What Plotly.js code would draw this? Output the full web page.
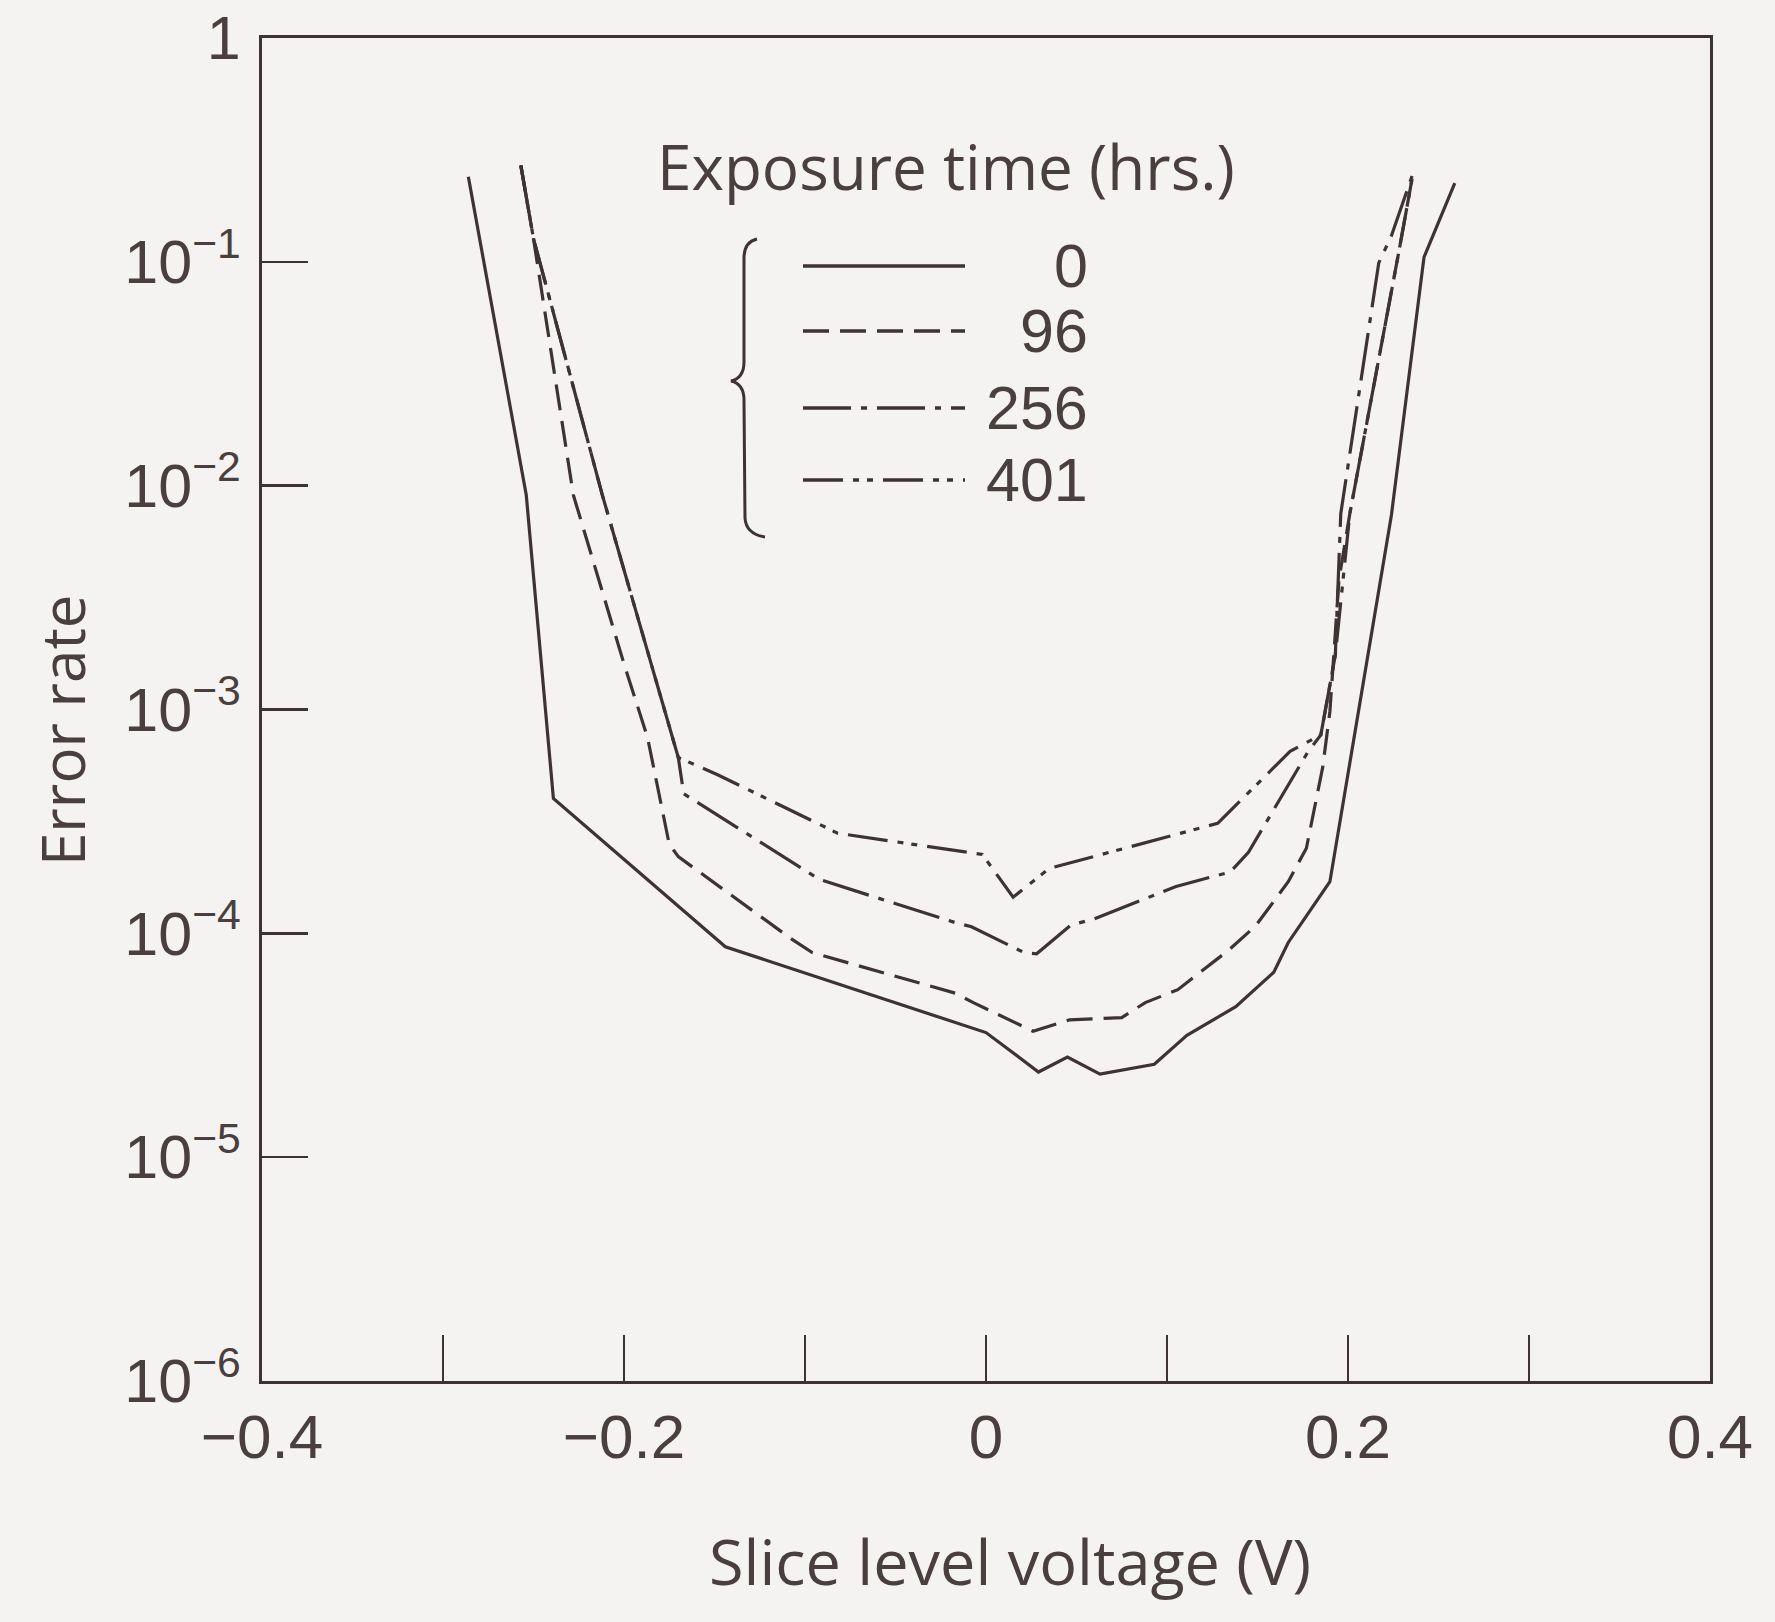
<!DOCTYPE html>
<html>
<head>
<meta charset="utf-8">
<script src="https://cdn.plot.ly/plotly-3.0.1.min.js"></script>
<style>
html,body{margin:0;padding:0;background:#f4f3f2;}
#chart{width:1775px;height:1622px;}
</style>
</head>
<body>
<div id="chart"></div>
<script>
// ---- data ----
const seriesNames = ['0', '96', '256', '401'];   // exposure time (hrs.)

const v0   = [-0.286, -0.254, -0.239, -0.144, 0.000, 0.029, 0.045, 0.063, 0.093, 0.111, 0.138, 0.159, 0.167, 0.190, 0.224, 0.242, 0.259];
const err0 = [0.24, 9.1e-3, 4.0e-4, 8.7e-5, 3.6e-5, 2.4e-5, 2.8e-5, 2.35e-5, 2.6e-5, 3.5e-5, 4.7e-5, 6.7e-5, 9.1e-5, 1.7e-4, 7.4e-3, 0.105, 0.225];

const v96   = [-0.257, -0.250, -0.228, -0.200, -0.187, -0.175, -0.170, -0.108, -0.096, -0.017, -0.007, 0.026, 0.046, 0.075, 0.088, 0.106, 0.134, 0.149, 0.167, 0.177, 0.186, 0.190, 0.195, 0.201, 0.228, 0.236];
const err96 = [0.27, 0.127, 9.1e-3, 1.6e-3, 7.5e-4, 2.5e-4, 2.2e-4, 9.5e-5, 8.2e-5, 5.4e-5, 4.9e-5, 3.65e-5, 4.1e-5, 4.2e-5, 4.9e-5, 5.6e-5, 8.4e-5, 1.08e-4, 1.7e-4, 2.4e-4, 5.5e-4, 9.8e-4, 3.8e-3, 7.5e-3, 0.11, 0.25];

const v256   = [-0.257, -0.250, -0.212, -0.189, -0.170, -0.167, -0.092, -0.016, -0.008, 0.021, 0.028, 0.047, 0.060, 0.105, 0.135, 0.145, 0.178, 0.185, 0.193, 0.196, 0.217, 0.224, 0.236];
const err256 = [0.27, 0.127, 9.1e-3, 2.1e-3, 6.1e-4, 4.2e-4, 1.74e-4, 1.11e-4, 1.07e-4, 8.2e-5, 8.1e-5, 1.09e-4, 1.16e-4, 1.62e-4, 1.88e-4, 2.3e-4, 6.5e-4, 7.7e-4, 1.75e-3, 7.5e-3, 0.099, 0.131, 0.25];

const v401   = [-0.257, -0.250, -0.212, -0.189, -0.170, -0.148, -0.082, -0.002, 0.015, 0.035, 0.128, 0.168, 0.185, 0.193, 0.201, 0.228, 0.236];
const err401 = [0.27, 0.127, 9.1e-3, 2.1e-3, 6.1e-4, 5.1e-4, 2.8e-4, 2.25e-4, 1.45e-4, 1.95e-4, 3.1e-4, 6.5e-4, 7.7e-4, 1.75e-3, 7.5e-3, 0.11, 0.25];

const xTickVals = [-0.4, -0.2, 0, 0.2, 0.4];
const xTickText = ['\u22120.4', '\u22120.2', '0', '0.2', '0.4'];
const xMinorVals = [-0.3, -0.1, 0.1, 0.3];
const yTickVals = [1e-6, 1e-5, 1e-4, 1e-3, 1e-2, 1e-1, 1];
const yTickText = ['10<sup>\u22126</sup>', '10<sup>\u22125</sup>', '10<sup>\u22124</sup>', '10<sup>\u22123</sup>', '10<sup>\u22122</sup>', '10<sup>\u22121</sup>', '1'];
const xTitle = 'Slice level voltage (V)';
const yTitle = 'Error rate';
const legendTitle = 'Exposure time (hrs.)';

// ---- styling ----
const INK = '#3e3333';
const TXT = '#4a3f3f';
const BG = '#f4f3f2';
const dashes = ['solid', '26px,11px', '48px,10px,6px,10px', '40px,10px,6px,8px,6px,10px'];
const W = 1775, H = 1622;
const M = {l: 262, r: 65, t: 38, b: 241};
const PW = W - M.l - M.r, PH = H - M.t - M.b;
const px = x => (x - M.l) / PW;          // pixel -> paper (x)
const py = y => (H - M.b - y) / PH;       // pixel -> paper (y)

const xs = [v0, v96, v256, v401];
const ys = [err0, err96, err256, err401];
const traces = seriesNames.map((n, i) => ({
  type: 'scatter', mode: 'lines', name: n,
  x: xs[i], y: ys[i],
  line: {color: INK, width: 3.2, dash: dashes[i]},
  showlegend: false, hoverinfo: 'skip'
}));

// custom legend (brace, samples and labels)
const legendRows = [266, 331, 408, 480];
const shapes = legendRows.map((ry, i) => ({
  type: 'line', xref: 'paper', yref: 'paper',
  x0: px(803), x1: px(965), y0: py(ry), y1: py(ry),
  line: {color: INK, width: 3.4, dash: dashes[i]}
}));
const bracePts = [[757,239],[744,242],[744,258],[744,362],[744,378],[731,381],[744,384],[744,400],[745,518],[746,534],[765,537]];
const b = bracePts.map(p => px(p[0]).toFixed(5) + ',' + py(p[1]).toFixed(5));
shapes.push({
  type: 'path', xref: 'paper', yref: 'paper',
  path: `M${b[0]} Q${b[1]} ${b[2]} L${b[3]} Q${b[4]} ${b[5]} Q${b[6]} ${b[7]} L${b[8]} Q${b[9]} ${b[10]}`,
  line: {color: INK, width: 3}
});

const annotations = legendRows.map((ry, i) => ({
  xref: 'paper', yref: 'paper', x: px(1090), y: py(ry),
  xanchor: 'right', yanchor: 'middle', showarrow: false,
  text: seriesNames[i], font: {size: 61, color: TXT, family: 'Liberation Sans, Arial, sans-serif'}
}));
annotations.push({
  xref: 'paper', yref: 'paper', x: px(655), y: py(166),
  xanchor: 'left', yanchor: 'middle', showarrow: false,
  text: legendTitle, font: {size: 62, color: TXT, family: 'Open Sans, sans-serif'}
});
// axis titles
annotations.push({
  xref: 'paper', yref: 'paper', x: px(1010), y: py(1560),
  xanchor: 'center', yanchor: 'middle', showarrow: false,
  text: xTitle, font: {size: 63, color: TXT, family: 'Open Sans, sans-serif'}
});
annotations.push({
  xref: 'paper', yref: 'paper', x: px(62), y: py(730),
  xanchor: 'center', yanchor: 'middle', showarrow: false, textangle: -90,
  text: yTitle, font: {size: 60, color: TXT, family: 'Open Sans, sans-serif'}
});

const layout = {
  width: W, height: H,
  margin: M,
  paper_bgcolor: BG, plot_bgcolor: BG,
  font: {color: TXT, family: 'Open Sans, sans-serif'},
  xaxis: {
    range: [-0.4, 0.4], tickmode: 'array', tickvals: xTickVals, ticktext: xTickText,
    ticks: 'inside', ticklen: 46, tickwidth: 2.5, tickcolor: INK,
    minor: {tickmode: 'array', tickvals: xMinorVals, ticks: 'inside', ticklen: 46, tickwidth: 2.5, tickcolor: INK, showgrid: false},
    showline: true, mirror: true, linecolor: INK, linewidth: 3,
    showgrid: false, zeroline: false,
    tickfont: {size: 62, color: TXT, family: 'Liberation Sans Narrow, Liberation Sans, Arial, sans-serif'}
  },
  yaxis: {
    type: 'log', range: [-6.0005, 0.0005], tickmode: 'array', tickvals: yTickVals, ticktext: yTickText,
    ticks: 'inside', ticklen: 46, tickwidth: 2.5, tickcolor: INK,
    showline: true, mirror: true, linecolor: INK, linewidth: 3,
    showgrid: false, zeroline: false, ticklabelstandoff: 6, ticklabeloverflow: 'allow',
    tickfont: {size: 61, color: TXT, family: 'Liberation Sans, Arial, sans-serif'}
  },
  shapes: shapes,
  annotations: annotations,
  showlegend: false
};

Plotly.newPlot('chart', traces, layout, {staticPlot: true, displayModeBar: false});
</script>
</body>
</html>
